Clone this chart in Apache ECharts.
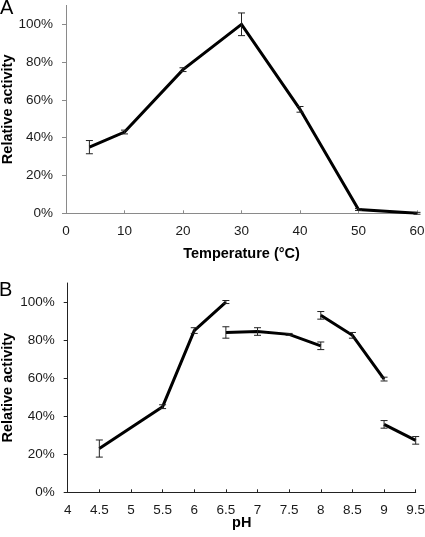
<!DOCTYPE html>
<html>
<head>
<meta charset="utf-8">
<script src="https://cdn.jsdelivr.net/npm/echarts@6/dist/echarts.min.js"></script>
<style>
html,body{margin:0;padding:0;background:#fff;}
#c{width:425px;height:537px;}
</style>
</head>
<body>
<div id="c"></div>
<script>
// ---- Data ----
var tempX = [4, 10, 20, 30, 40, 50, 60];
var tempY = [35, 43, 76, 100, 55, 2, 0];
var tempErr = [3.5, 1, 1, 6, 1.5, 0.5, 0.5];

var ph1X = [4.5, 5.5, 6, 6.5];
var ph1Y = [23, 45, 85, 100];
var ph1Err = [4.5, 1, 1.5, 0.8];

var ph2X = [6.5, 7, 7.5, 8];
var ph2Y = [84, 84.5, 83, 77];
var ph2Err = [3, 2, 0.5, 2];

var ph3X = [8, 8.5, 9];
var ph3Y = [93, 82.5, 59.5];
var ph3Err = [2, 1.5, 1];

var ph4X = [9, 9.5];
var ph4Y = [35.7, 27.3];
var ph4Err = [2, 2];

var yTicks = [0, 20, 40, 60, 80, 100];

// ---- Helpers ----
function pairs(xs, ys) { return xs.map(function (x, i) { return [x, ys[i]]; }); }
function errData(xs, ys, es) { return xs.map(function (x, i) { return [x, ys[i] - es[i], ys[i] + es[i]]; }); }

function lineSeries(xs, ys, idx) {
  return {
    type: 'line', xAxisIndex: idx, yAxisIndex: idx,
    data: pairs(xs, ys), showSymbol: false, symbol: 'none',
    lineStyle: { color: '#000', width: 3, join: 'miter' },
    z: 2, animation: false
  };
}
function errSeries(xs, ys, es, idx) {
  return {
    type: 'custom', xAxisIndex: idx, yAxisIndex: idx,
    data: errData(xs, ys, es), z: 3, animation: false,
    renderItem: function (params, api) {
      var lo = api.coord([api.value(0), api.value(1)]);
      var hi = api.coord([api.value(0), api.value(2)]);
      var w = 3.5;
      var st = { stroke: '#222', lineWidth: 1 };
      return {
        type: 'group',
        children: [
          { type: 'line', shape: { x1: lo[0], y1: lo[1], x2: hi[0], y2: hi[1] }, style: st },
          { type: 'line', shape: { x1: lo[0] - w, y1: lo[1], x2: lo[0] + w, y2: lo[1] }, style: st },
          { type: 'line', shape: { x1: hi[0] - w, y1: hi[1], x2: hi[0] + w, y2: hi[1] }, style: st }
        ]
      };
    }
  };
}

var font = 'Liberation Sans, Arial, sans-serif';
var labelStyle = { color: '#1a1a1a', fontSize: 13.5, fontFamily: font };
var nameStyle = { color: '#000', fontSize: 14.5, fontWeight: 'bold', fontFamily: font };

function yAxis(idx, axisColor, gap) {
  return {
    type: 'value', gridIndex: idx, min: 0, max: 110, interval: 20,
    name: 'Relative activity', nameLocation: 'middle', nameGap: gap, nameRotate: 90,
    nameMoveOverlap: false,
    nameTextStyle: nameStyle,
    axisLine: { show: true, lineStyle: { color: axisColor, width: 1 } },
    axisTick: { show: true, inside: false, length: 4, customValues: yTicks, lineStyle: { color: axisColor } },
    axisLabel: Object.assign({ margin: 13, customValues: yTicks, formatter: function (v) { return v + '%'; } }, labelStyle),
    splitLine: { show: false }
  };
}

var chart = echarts.init(document.getElementById('c'), null, { renderer: 'canvas' });
chart.setOption({
  animation: false,
  backgroundColor: '#fff',
  title: [
    { text: 'A', left: 0, top: -2, padding: 0, textStyle: { fontSize: 20, fontWeight: 'normal', color: '#000', fontFamily: font } },
    { text: 'B', left: -1, top: 280, padding: 0, textStyle: { fontSize: 20, fontWeight: 'normal', color: '#000', fontFamily: font } }
  ],
  grid: [
    { left: 66, right: 8, top: 5.4, bottom: 323.7, containLabel: false, outerBoundsMode: 'none' },
    { left: 67.7, right: 9.3, top: 283, bottom: 44.7, containLabel: false, outerBoundsMode: 'none' }
  ],
  xAxis: [
    {
      type: 'value', gridIndex: 0, min: 0, max: 60, interval: 10,
      name: 'Temperature (°C)', nameLocation: 'middle', nameGap: 33, nameMoveOverlap: false, nameTextStyle: nameStyle,
      axisLine: { show: true, onZero: false, lineStyle: { color: '#8a8a8a', width: 1 } },
      axisTick: { show: true, inside: true, length: 3, lineStyle: { color: '#8a8a8a' } },
      axisLabel: Object.assign({ margin: 11 }, labelStyle),
      splitLine: { show: false }
    },
    {
      type: 'value', gridIndex: 1, min: 4, max: 9.5, interval: 0.5,
      name: 'pH', nameLocation: 'middle', nameGap: 23.5, nameMoveOverlap: false, nameTextStyle: nameStyle,
      axisLine: { show: true, onZero: false, lineStyle: { color: '#222', width: 1 } },
      axisTick: { show: true, inside: true, length: 3, lineStyle: { color: '#222' } },
      axisLabel: Object.assign({ margin: 11 }, labelStyle),
      splitLine: { show: false }
    }
  ],
  yAxis: [yAxis(0, '#8a8a8a', 50.5), yAxis(1, '#222', 52)],
  series: [
    lineSeries(tempX, tempY, 0), errSeries(tempX, tempY, tempErr, 0),
    lineSeries(ph1X, ph1Y, 1), errSeries(ph1X, ph1Y, ph1Err, 1),
    lineSeries(ph2X, ph2Y, 1), errSeries(ph2X, ph2Y, ph2Err, 1),
    lineSeries(ph3X, ph3Y, 1), errSeries(ph3X, ph3Y, ph3Err, 1),
    lineSeries(ph4X, ph4Y, 1), errSeries(ph4X, ph4Y, ph4Err, 1)
  ]
});
</script>
</body>
</html>
